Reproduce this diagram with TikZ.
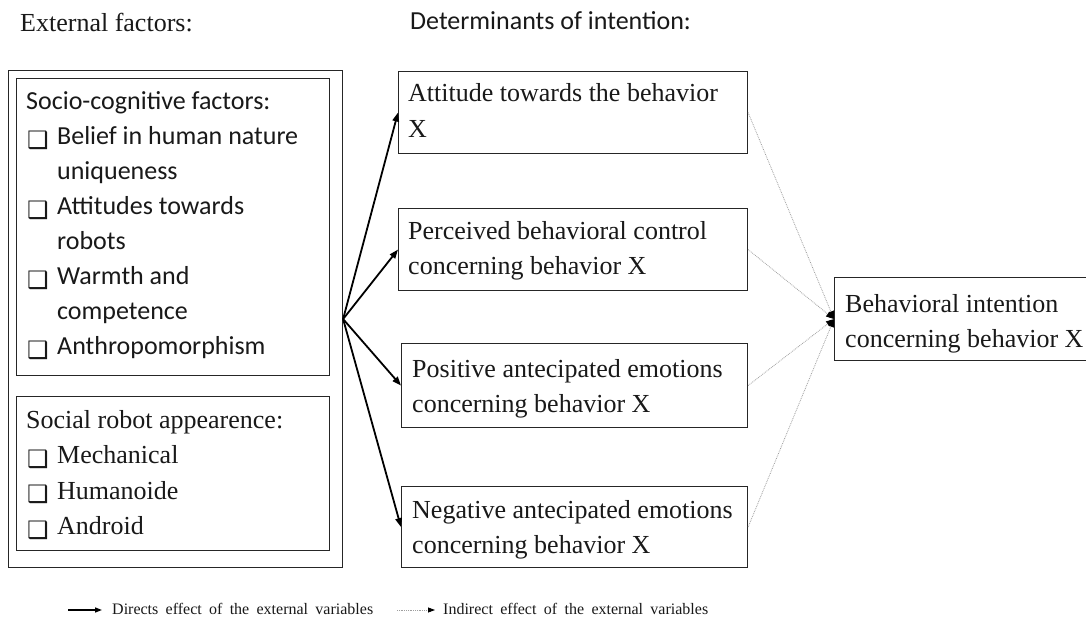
\documentclass[tikz,border=0pt]{standalone}
\usepackage{fontspec}
\setmainfont{Liberation Serif}
\newfontfamily\calfont{Carlito}
\newfontfamily\symfont{DejaVu Sans}
\usetikzlibrary{arrows.meta}

% check-box bullet and the matching hanging indent
\newcommand{\cbx}{\makebox[31pt][l]{\hspace*{1pt}\raisebox{-3.5pt}{\symfont\fontsize{24}{24}\selectfont ❑}}}
\newcommand{\cbxind}{\hspace*{31pt}}
% a stack of lines whose reference point is the first baseline
\newcommand{\stacked}[2]{\vtop{\baselineskip=#1\lineskiplimit=-100pt\lineskip=0pt #2}}

\begin{document}
\begin{tikzpicture}[x=1pt,y=-1pt,
  box/.style={draw=black!85, line width=1.1pt, inner sep=0pt, anchor=north west},
  txt/.style={anchor=base west, inner sep=0pt, text=black!90},
  serifbig/.style={font=\fontsize{26}{36}\selectfont},
  sansbig/.style={font=\calfont\fontsize{26}{35}\selectfont},
  legendtxt/.style={font=\fontsize{16}{18}\selectfont},
  direct/.style={draw=black, line width=1.8pt, -{Triangle[length=9pt,width=6.5pt]}},
  indirect/.style={draw=gray!75, line width=0.8pt, densely dotted,
    -{Triangle[length=8pt,width=6pt,color=black]}},
]
\clip (0,0) rectangle (1086,620);
\fill[white] (0,0) rectangle (1086,620);

% headings
\node[txt, serifbig] (hext) at (20,32) {External factors:};
\node[txt, sansbig] (hdet) at (410,30) {Determinants of intention:};

% external factors
\node[box, minimum width=334pt, minimum height=497pt] (outer) at (8,70) {};
\node[box, minimum width=313pt, minimum height=297pt] (socio) at (16,78) {};
\node[box, minimum width=313pt, minimum height=154pt] (appear) at (16,396) {};

\node[txt, sansbig] (sociotxt) at (26,110) {\stacked{35pt}{%
  \hbox{Socio-cognitive factors:}
  \hbox{\cbx Belief in human nature}
  \hbox{\cbxind uniqueness}
  \hbox{\cbx Attitudes towards}
  \hbox{\cbxind robots}
  \hbox{\cbx Warmth and}
  \hbox{\cbxind competence}
  \hbox{\cbx Anthropomorphism}}};

\node[txt, serifbig] (appeartxt) at (26,428) {\stacked{35.5pt}{%
  \hbox{Social robot appearence:}
  \hbox{\cbx Mechanical}
  \hbox{\cbx Humanoide}
  \hbox{\cbx Android}}};

% determinants of intention
\node[box, minimum width=349pt, minimum height=82pt] (att) at (398,71) {};
\node[box, minimum width=349pt, minimum height=82pt] (perc) at (398,208) {};
\node[box, minimum width=346pt, minimum height=84pt] (pos) at (401,343) {};
\node[box, minimum width=346pt, minimum height=81pt] (neg) at (401,486) {};

\node[txt, serifbig] (atttxt) at (408,102) {\stacked{36pt}{%
  \hbox{Attitude towards the behavior}\hbox{X}}};
\node[txt, serifbig] (perctxt) at (408,240) {\stacked{35pt}{%
  \hbox{Perceived behavioral control}\hbox{concerning behavior X}}};
\node[txt, serifbig] (postxt) at (412,377) {\stacked{35pt}{%
  \hbox{Positive antecipated emotions}\hbox{concerning behavior X}}};
\node[txt, serifbig] (negtxt) at (412,518) {\stacked{35pt}{%
  \hbox{Negative antecipated emotions}\hbox{concerning behavior X}}};

% behavioral intention
\node[box, minimum width=262pt, minimum height=83pt] (bi) at (834,277) {};
\node[txt, serifbig] (bitxt) at (845,312) {\stacked{35pt}{%
  \hbox{Behavioral intention}\hbox{concerning behavior X}}};

% direct effects
\draw[direct] (outer.east) -- (att.west);
\draw[direct] (outer.east) -- (perc.west);
\draw[direct] (outer.east) -- (pos.west);
\draw[direct] (outer.east) -- (neg.west);

% indirect effects
\draw[indirect] (att.east) -- (bi.west);
\draw[indirect] (perc.east) -- (bi.west);
\draw[indirect] (pos.east) -- (bi.west);
\draw[indirect] (neg.east) -- (bi.west);

% legend
\coordinate (l1a) at (68,610);
\coordinate (l1b) at (102,610);
\coordinate (l2a) at (397,610);
\coordinate (l2b) at (435,610);
\draw[draw=black, line width=1.4pt, -{Triangle[length=7pt,width=5pt]}] (l1a) -- (l1b);
\draw[draw=gray!75, line width=0.8pt, densely dotted,
  -{Triangle[length=7pt,width=5pt,color=black]}] (l2a) -- (l2b);
\node[txt, legendtxt] (leg1) at (112,614)
  {\makebox[261pt][s]{Directs effect of the external variables}};
\node[txt, legendtxt] (leg2) at (443,614)
  {\makebox[265pt][s]{Indirect effect of the external variables}};
\end{tikzpicture}
\end{document}
